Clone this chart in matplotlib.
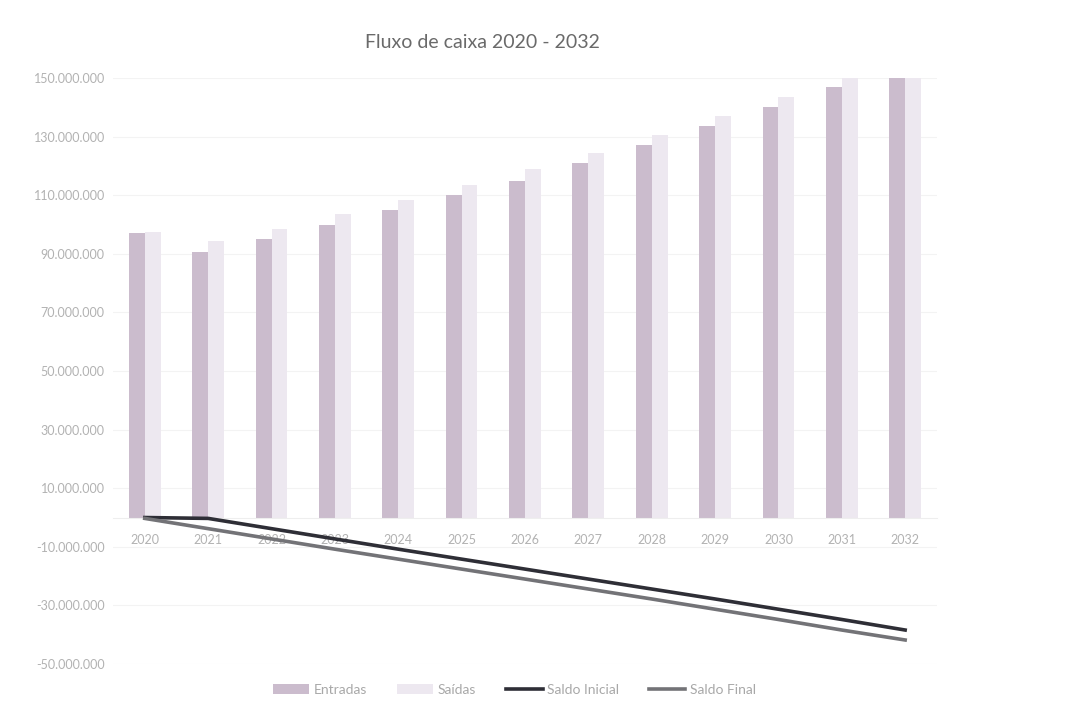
import matplotlib
matplotlib.use('Agg')
import matplotlib.pyplot as plt
from matplotlib.ticker import FuncFormatter
import numpy as np

plt.rcParams['font.family'] = ['Lato', 'DejaVu Sans']

anos = ['2020', '2021', '2022', '2023', '2024', '2025', '2026',
        '2027', '2028', '2029', '2030', '2031', '2032']

# valores em milhoes
entradas = [97.0, 90.5, 95.0, 100.0, 105.0, 110.0, 115.0,
            121.0, 127.0, 133.5, 140.0, 147.0, 154.0]
saidas = [97.5, 94.5, 98.5, 103.5, 108.5, 113.5, 119.0,
          124.5, 130.5, 137.0, 143.5, 150.5, 157.5]
saldo_inicial = [0.0, -0.3, -3.8, -7.3, -10.8, -14.2, -17.6,
                 -21.0, -24.4, -27.8, -31.3, -34.8, -38.4]
saldo_final = [-0.3, -3.8, -7.3, -10.8, -14.2, -17.6, -21.0,
               -24.4, -27.8, -31.3, -34.8, -38.4, -41.8]

M = 1e6
x = np.arange(len(anos))
larg = 0.25

fig = plt.figure(figsize=(10.67, 7.16), dpi=100)
ax = fig.add_axes([0.106, 0.0726, 0.772, 0.8184])

b1 = ax.bar(x - larg / 2, np.array(entradas) * M, larg, color='#cbbccd', label='Entradas', zorder=2)
b2 = ax.bar(x + larg / 2, np.array(saidas) * M, larg, color='#ede8f0', label='Saídas', zorder=2)
l1, = ax.plot(x, np.array(saldo_inicial) * M, color='#2e2e36', lw=2.6, label='Saldo Inicial', zorder=3)
l2, = ax.plot(x, np.array(saldo_final) * M, color='#737377', lw=2.6, label='Saldo Final', zorder=3)

ax.set_xlim(-0.5, len(anos) - 0.5)
ax.set_ylim(-50 * M, 150 * M)
ax.set_yticks(np.arange(-50, 151, 20) * M)
ax.yaxis.set_major_formatter(FuncFormatter(lambda v, p: f'{v:,.0f}'.replace(',', '.')))
ax.set_xticks(x)
ax.set_xticklabels(anos)
ax.grid(axis='y', color='#f3f3f3', lw=0.8, zorder=0)

for s in ['top', 'right', 'left']:
    ax.spines[s].set_visible(False)
ax.spines['bottom'].set_position(('data', 0))
ax.spines['bottom'].set_color('#eeeeee')
ax.tick_params(axis='both', length=0, colors='#b2b2b2', labelsize=9)
ax.tick_params(axis='x', pad=12)
ax.tick_params(axis='y', pad=6)

fig.text(0.452, 0.941, 'Fluxo de caixa 2020 - 2032', ha='center', va='center',
         fontsize=14, color='#6a6a6a')

fig.legend(handles=[b1, b2, l1, l2], loc='center', bbox_to_anchor=(0.482, 0.037),
           ncol=4, frameon=False, fontsize=10, labelcolor='#a8a8a8',
           handlelength=2.6, handletextpad=0.3, columnspacing=2.2)

fig.savefig('out.png', dpi=100)
